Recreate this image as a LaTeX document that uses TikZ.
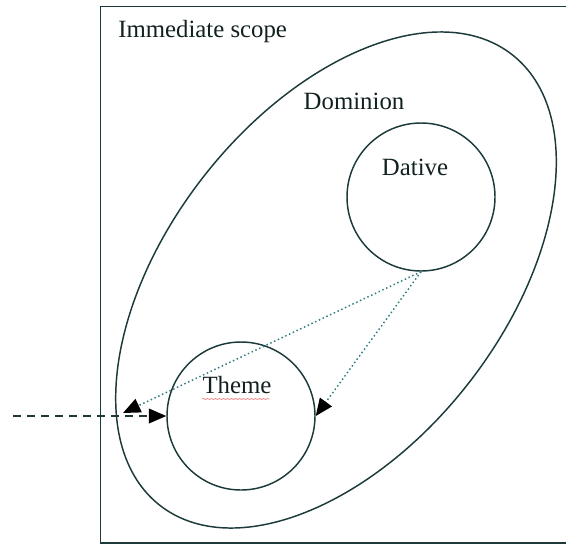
\documentclass[tikz,border=0pt]{standalone}
\usepackage{fontspec}
\setmainfont{Liberation Serif}
\usetikzlibrary{arrows.meta,decorations.pathmorphing}
\definecolor{ink}{RGB}{28,58,58}
\definecolor{textink}{RGB}{18,32,32}
\definecolor{dotink}{RGB}{45,125,128}
\definecolor{squiggle}{RGB}{240,140,140}
\begin{document}
\begin{tikzpicture}[x=0.75pt,y=-0.75pt,
  outline/.style={draw=ink,line width=1.1pt},
  role/.style={circle,draw=ink,line width=1.1pt,minimum size=111pt,inner sep=0pt},
  lbl/.style={text=textink,font=\fontsize{18.6}{22}\selectfont,inner sep=0pt},
  tip/.style={-{Triangle[length=13pt,width=11pt,color=black,fill=black]}},
  reach/.style={draw=dotink,line width=1.1pt,dotted,tip},
  entry/.style={draw=ink,line width=1.1pt,dash pattern=on 6pt off 4.5pt,tip}]
  \useasboundingbox (0,0) rectangle (566,546);
  \clip (0,0) rectangle (566,546);
  % immediate scope frame (runs off the right edge)
  \draw[outline] (100.5,6.5) rectangle (620,543);
  \node[lbl,anchor=west] (scope) at (118,32) {Immediate scope};
  % dominion: tilted ellipse
  \draw[outline,rotate around={52:(336,280)}] (336,280) ellipse [x radius=286,y radius=168];
  \coordinate (rim) at (123,413);
  \node[lbl] (dominion) at (354,101) {Dominion};
  % participants
  \node[role] (dative) at (421,197) {};
  \node[lbl] (dativelbl) at (415,167) {Dative};
  \node[role] (theme) at (241,416) {};
  \node[lbl] (themelbl) at (237,385) {Theme};
  \draw[squiggle,line width=0.6pt,decorate,decoration={snake,amplitude=0.4pt,segment length=3pt}]
    (themelbl.south west)++(0,5) -- ++(67,0);
  % connectors
  \draw[reach] (dative.south) -- (rim);
  \draw[reach] (dative.south) -- (theme.east);
  \coordinate (outside) at (13,416);
  \draw[entry] (outside) -- (theme.west);
\end{tikzpicture}
\end{document}
